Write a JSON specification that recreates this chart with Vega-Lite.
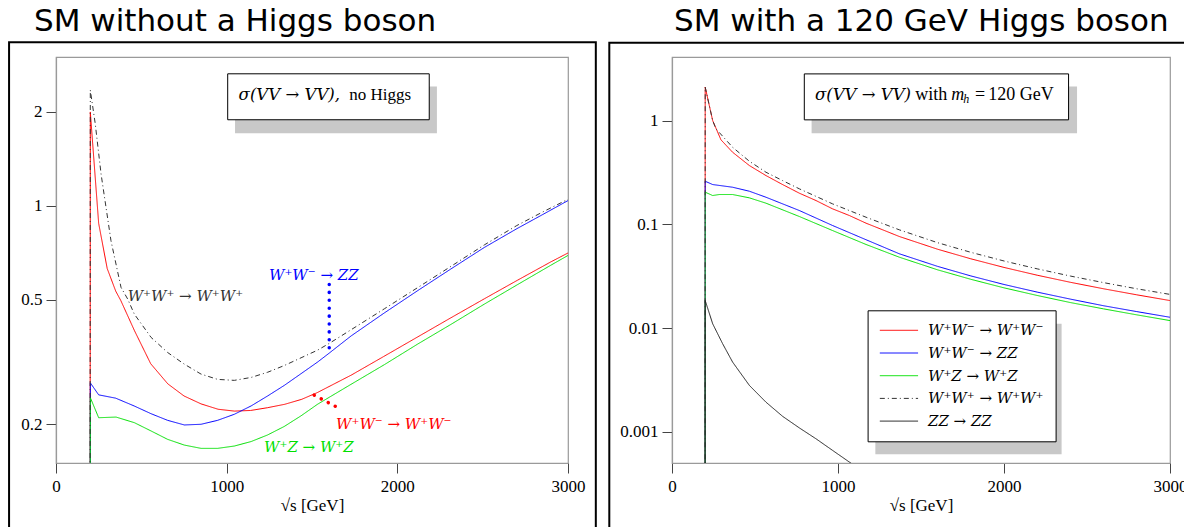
{
  "$schema": "https://vega.github.io/schema/vega-lite/v6.json",
  "background": "white",
  "padding": {"left": 7, "top": 5, "right": 0, "bottom": 0},
  "spacing": 9,
  "datasets": {
    "L": [
      {"process": "W⁺W⁻ → W⁺W⁻", "x": 199, "y": 0.01},
      {"process": "W⁺W⁻ → W⁺W⁻", "x": 201, "y": 2.0},
      {"process": "W⁺W⁻ → W⁺W⁻", "x": 250, "y": 0.879},
      {"process": "W⁺W⁻ → W⁺W⁻", "x": 300, "y": 0.63},
      {"process": "W⁺W⁻ → W⁺W⁻", "x": 350, "y": 0.533},
      {"process": "W⁺W⁻ → W⁺W⁻", "x": 380, "y": 0.497},
      {"process": "W⁺W⁻ → W⁺W⁻", "x": 460, "y": 0.398},
      {"process": "W⁺W⁻ → W⁺W⁻", "x": 555, "y": 0.312},
      {"process": "W⁺W⁻ → W⁺W⁻", "x": 655, "y": 0.269},
      {"process": "W⁺W⁻ → W⁺W⁻", "x": 750, "y": 0.246},
      {"process": "W⁺W⁻ → W⁺W⁻", "x": 850, "y": 0.232},
      {"process": "W⁺W⁻ → W⁺W⁻", "x": 950, "y": 0.223},
      {"process": "W⁺W⁻ → W⁺W⁻", "x": 1045, "y": 0.22},
      {"process": "W⁺W⁻ → W⁺W⁻", "x": 1140, "y": 0.221},
      {"process": "W⁺W⁻ → W⁺W⁻", "x": 1240, "y": 0.2256},
      {"process": "W⁺W⁻ → W⁺W⁻", "x": 1340, "y": 0.2313},
      {"process": "W⁺W⁻ → W⁺W⁻", "x": 1440, "y": 0.24},
      {"process": "W⁺W⁻ → W⁺W⁻", "x": 1530, "y": 0.252},
      {"process": "W⁺W⁻ → W⁺W⁻", "x": 1730, "y": 0.2869},
      {"process": "W⁺W⁻ → W⁺W⁻", "x": 1920, "y": 0.3291},
      {"process": "W⁺W⁻ → W⁺W⁻", "x": 2120, "y": 0.3805},
      {"process": "W⁺W⁻ → W⁺W⁻", "x": 2310, "y": 0.4367},
      {"process": "W⁺W⁻ → W⁺W⁻", "x": 2510, "y": 0.5039},
      {"process": "W⁺W⁻ → W⁺W⁻", "x": 2705, "y": 0.5782},
      {"process": "W⁺W⁻ → W⁺W⁻", "x": 2900, "y": 0.6618},
      {"process": "W⁺W⁻ → W⁺W⁻", "x": 3000, "y": 0.7065},
      {"process": "W⁺W⁻ → ZZ", "x": 199, "y": 0.01},
      {"process": "W⁺W⁻ → ZZ", "x": 201, "y": 0.271},
      {"process": "W⁺W⁻ → ZZ", "x": 250, "y": 0.248},
      {"process": "W⁺W⁻ → ZZ", "x": 350, "y": 0.242},
      {"process": "W⁺W⁻ → ZZ", "x": 458, "y": 0.2285},
      {"process": "W⁺W⁻ → ZZ", "x": 557, "y": 0.2158},
      {"process": "W⁺W⁻ → ZZ", "x": 654, "y": 0.2055},
      {"process": "W⁺W⁻ → ZZ", "x": 752, "y": 0.1986},
      {"process": "W⁺W⁻ → ZZ", "x": 850, "y": 0.1996},
      {"process": "W⁺W⁻ → ZZ", "x": 947, "y": 0.2055},
      {"process": "W⁺W⁻ → ZZ", "x": 1045, "y": 0.2149},
      {"process": "W⁺W⁻ → ZZ", "x": 1143, "y": 0.2285},
      {"process": "W⁺W⁻ → ZZ", "x": 1240, "y": 0.246},
      {"process": "W⁺W⁻ → ZZ", "x": 1338, "y": 0.266},
      {"process": "W⁺W⁻ → ZZ", "x": 1436, "y": 0.29},
      {"process": "W⁺W⁻ → ZZ", "x": 1533, "y": 0.316},
      {"process": "W⁺W⁻ → ZZ", "x": 1601, "y": 0.3375},
      {"process": "W⁺W⁻ → ZZ", "x": 1729, "y": 0.383},
      {"process": "W⁺W⁻ → ZZ", "x": 1924, "y": 0.454},
      {"process": "W⁺W⁻ → ZZ", "x": 2119, "y": 0.535},
      {"process": "W⁺W⁻ → ZZ", "x": 2314, "y": 0.628},
      {"process": "W⁺W⁻ → ZZ", "x": 2510, "y": 0.736},
      {"process": "W⁺W⁻ → ZZ", "x": 2700, "y": 0.845},
      {"process": "W⁺W⁻ → ZZ", "x": 2850, "y": 0.937},
      {"process": "W⁺W⁻ → ZZ", "x": 3000, "y": 1.04},
      {"process": "W⁺Z → W⁺Z", "x": 199, "y": 0.01},
      {"process": "W⁺Z → W⁺Z", "x": 201, "y": 0.243},
      {"process": "W⁺Z → W⁺Z", "x": 250, "y": 0.2095},
      {"process": "W⁺Z → W⁺Z", "x": 352, "y": 0.2105},
      {"process": "W⁺Z → W⁺Z", "x": 459, "y": 0.202},
      {"process": "W⁺Z → W⁺Z", "x": 557, "y": 0.19},
      {"process": "W⁺Z → W⁺Z", "x": 654, "y": 0.1786},
      {"process": "W⁺Z → W⁺Z", "x": 752, "y": 0.1712},
      {"process": "W⁺Z → W⁺Z", "x": 850, "y": 0.1671},
      {"process": "W⁺Z → W⁺Z", "x": 947, "y": 0.1671},
      {"process": "W⁺Z → W⁺Z", "x": 1045, "y": 0.17},
      {"process": "W⁺Z → W⁺Z", "x": 1143, "y": 0.1757},
      {"process": "W⁺Z → W⁺Z", "x": 1240, "y": 0.1845},
      {"process": "W⁺Z → W⁺Z", "x": 1338, "y": 0.1965},
      {"process": "W⁺Z → W⁺Z", "x": 1436, "y": 0.2125},
      {"process": "W⁺Z → W⁺Z", "x": 1533, "y": 0.2315},
      {"process": "W⁺Z → W⁺Z", "x": 1729, "y": 0.2681},
      {"process": "W⁺Z → W⁺Z", "x": 1924, "y": 0.3099},
      {"process": "W⁺Z → W⁺Z", "x": 2119, "y": 0.3607},
      {"process": "W⁺Z → W⁺Z", "x": 2314, "y": 0.4171},
      {"process": "W⁺Z → W⁺Z", "x": 2510, "y": 0.4845},
      {"process": "W⁺Z → W⁺Z", "x": 2705, "y": 0.5597},
      {"process": "W⁺Z → W⁺Z", "x": 2900, "y": 0.6457},
      {"process": "W⁺Z → W⁺Z", "x": 3000, "y": 0.6938},
      {"process": "W⁺W⁺ → W⁺W⁺", "x": 199, "y": 0.01},
      {"process": "W⁺W⁺ → W⁺W⁺", "x": 201, "y": 2.35},
      {"process": "W⁺W⁺ → W⁺W⁺", "x": 230, "y": 1.833},
      {"process": "W⁺W⁺ → W⁺W⁺", "x": 264, "y": 1.266},
      {"process": "W⁺W⁺ → W⁺W⁺", "x": 322, "y": 0.774},
      {"process": "W⁺W⁺ → W⁺W⁺", "x": 381, "y": 0.548},
      {"process": "W⁺W⁺ → W⁺W⁺", "x": 420, "y": 0.503},
      {"process": "W⁺W⁺ → W⁺W⁺", "x": 459, "y": 0.45},
      {"process": "W⁺W⁺ → W⁺W⁺", "x": 557, "y": 0.379},
      {"process": "W⁺W⁺ → W⁺W⁺", "x": 654, "y": 0.339},
      {"process": "W⁺W⁺ → W⁺W⁺", "x": 752, "y": 0.311},
      {"process": "W⁺W⁺ → W⁺W⁺", "x": 850, "y": 0.289},
      {"process": "W⁺W⁺ → W⁺W⁺", "x": 947, "y": 0.278},
      {"process": "W⁺W⁺ → W⁺W⁺", "x": 1045, "y": 0.276},
      {"process": "W⁺W⁺ → W⁺W⁺", "x": 1143, "y": 0.282},
      {"process": "W⁺W⁺ → W⁺W⁺", "x": 1240, "y": 0.293},
      {"process": "W⁺W⁺ → W⁺W⁺", "x": 1338, "y": 0.308},
      {"process": "W⁺W⁺ → W⁺W⁺", "x": 1436, "y": 0.326},
      {"process": "W⁺W⁺ → W⁺W⁺", "x": 1533, "y": 0.345},
      {"process": "W⁺W⁺ → W⁺W⁺", "x": 1601, "y": 0.3625},
      {"process": "W⁺W⁺ → W⁺W⁺", "x": 1729, "y": 0.401},
      {"process": "W⁺W⁺ → W⁺W⁺", "x": 1924, "y": 0.468},
      {"process": "W⁺W⁺ → W⁺W⁺", "x": 2119, "y": 0.547},
      {"process": "W⁺W⁺ → W⁺W⁺", "x": 2314, "y": 0.64},
      {"process": "W⁺W⁺ → W⁺W⁺", "x": 2510, "y": 0.75},
      {"process": "W⁺W⁺ → W⁺W⁺", "x": 2700, "y": 0.865},
      {"process": "W⁺W⁺ → W⁺W⁺", "x": 2850, "y": 0.955},
      {"process": "W⁺W⁺ → W⁺W⁺", "x": 3000, "y": 1.05}
    ],
    "R": [
      {"process": "W⁺W⁻ → W⁺W⁻", "x": 199, "y": 0.00001},
      {"process": "W⁺W⁻ → W⁺W⁻", "x": 200, "y": 2.1},
      {"process": "W⁺W⁻ → W⁺W⁻", "x": 245, "y": 1.0},
      {"process": "W⁺W⁻ → W⁺W⁻", "x": 295, "y": 0.652},
      {"process": "W⁺W⁻ → W⁺W⁻", "x": 365, "y": 0.495},
      {"process": "W⁺W⁻ → W⁺W⁻", "x": 466, "y": 0.3685},
      {"process": "W⁺W⁻ → W⁺W⁻", "x": 566, "y": 0.295},
      {"process": "W⁺W⁻ → W⁺W⁻", "x": 666, "y": 0.2417},
      {"process": "W⁺W⁻ → W⁺W⁻", "x": 767, "y": 0.1995},
      {"process": "W⁺W⁻ → W⁺W⁻", "x": 867, "y": 0.1696},
      {"process": "W⁺W⁻ → W⁺W⁻", "x": 967, "y": 0.141},
      {"process": "W⁺W⁻ → W⁺W⁻", "x": 1068, "y": 0.1216},
      {"process": "W⁺W⁻ → W⁺W⁻", "x": 1169, "y": 0.1025},
      {"process": "W⁺W⁻ → W⁺W⁻", "x": 1269, "y": 0.0885},
      {"process": "W⁺W⁻ → W⁺W⁻", "x": 1369, "y": 0.0763},
      {"process": "W⁺W⁻ → W⁺W⁻", "x": 1600, "y": 0.0575},
      {"process": "W⁺W⁻ → W⁺W⁻", "x": 1800, "y": 0.0465},
      {"process": "W⁺W⁻ → W⁺W⁻", "x": 2000, "y": 0.0384},
      {"process": "W⁺W⁻ → W⁺W⁻", "x": 2200, "y": 0.0323},
      {"process": "W⁺W⁻ → W⁺W⁻", "x": 2400, "y": 0.0276},
      {"process": "W⁺W⁻ → W⁺W⁻", "x": 2600, "y": 0.0239},
      {"process": "W⁺W⁻ → W⁺W⁻", "x": 2800, "y": 0.0209},
      {"process": "W⁺W⁻ → W⁺W⁻", "x": 3000, "y": 0.0184},
      {"process": "W⁺W⁻ → ZZ", "x": 199, "y": 0.00001},
      {"process": "W⁺W⁻ → ZZ", "x": 200, "y": 0.26},
      {"process": "W⁺W⁻ → ZZ", "x": 245, "y": 0.2417},
      {"process": "W⁺W⁻ → ZZ", "x": 365, "y": 0.2277},
      {"process": "W⁺W⁻ → ZZ", "x": 466, "y": 0.2084},
      {"process": "W⁺W⁻ → ZZ", "x": 566, "y": 0.1824},
      {"process": "W⁺W⁻ → ZZ", "x": 767, "y": 0.1358},
      {"process": "W⁺W⁻ → ZZ", "x": 967, "y": 0.0974},
      {"process": "W⁺W⁻ → ZZ", "x": 1169, "y": 0.071},
      {"process": "W⁺W⁻ → ZZ", "x": 1369, "y": 0.052},
      {"process": "W⁺W⁻ → ZZ", "x": 1600, "y": 0.0393},
      {"process": "W⁺W⁻ → ZZ", "x": 1800, "y": 0.0318},
      {"process": "W⁺W⁻ → ZZ", "x": 2000, "y": 0.0263},
      {"process": "W⁺W⁻ → ZZ", "x": 2200, "y": 0.0222},
      {"process": "W⁺W⁻ → ZZ", "x": 2400, "y": 0.019},
      {"process": "W⁺W⁻ → ZZ", "x": 2600, "y": 0.0164},
      {"process": "W⁺W⁻ → ZZ", "x": 2800, "y": 0.0144},
      {"process": "W⁺W⁻ → ZZ", "x": 3000, "y": 0.0127},
      {"process": "W⁺Z → W⁺Z", "x": 199, "y": 0.00001},
      {"process": "W⁺Z → W⁺Z", "x": 200, "y": 0.204},
      {"process": "W⁺Z → W⁺Z", "x": 245, "y": 0.1894},
      {"process": "W⁺Z → W⁺Z", "x": 285, "y": 0.1937},
      {"process": "W⁺Z → W⁺Z", "x": 365, "y": 0.1937},
      {"process": "W⁺Z → W⁺Z", "x": 466, "y": 0.1799},
      {"process": "W⁺Z → W⁺Z", "x": 566, "y": 0.1598},
      {"process": "W⁺Z → W⁺Z", "x": 767, "y": 0.1189},
      {"process": "W⁺Z → W⁺Z", "x": 967, "y": 0.0871},
      {"process": "W⁺Z → W⁺Z", "x": 1169, "y": 0.0639},
      {"process": "W⁺Z → W⁺Z", "x": 1369, "y": 0.0482},
      {"process": "W⁺Z → W⁺Z", "x": 1600, "y": 0.0364},
      {"process": "W⁺Z → W⁺Z", "x": 1800, "y": 0.0295},
      {"process": "W⁺Z → W⁺Z", "x": 2000, "y": 0.0244},
      {"process": "W⁺Z → W⁺Z", "x": 2200, "y": 0.0206},
      {"process": "W⁺Z → W⁺Z", "x": 2400, "y": 0.0176},
      {"process": "W⁺Z → W⁺Z", "x": 2600, "y": 0.0153},
      {"process": "W⁺Z → W⁺Z", "x": 2800, "y": 0.0134},
      {"process": "W⁺Z → W⁺Z", "x": 3000, "y": 0.0118},
      {"process": "W⁺W⁺ → W⁺W⁺", "x": 199, "y": 0.00001},
      {"process": "W⁺W⁺ → W⁺W⁺", "x": 200, "y": 2.1},
      {"process": "W⁺W⁺ → W⁺W⁺", "x": 245, "y": 1.0},
      {"process": "W⁺W⁺ → W⁺W⁺", "x": 265, "y": 0.832},
      {"process": "W⁺W⁺ → W⁺W⁺", "x": 365, "y": 0.553},
      {"process": "W⁺W⁺ → W⁺W⁺", "x": 466, "y": 0.4055},
      {"process": "W⁺W⁺ → W⁺W⁺", "x": 566, "y": 0.3177},
      {"process": "W⁺W⁺ → W⁺W⁺", "x": 666, "y": 0.264},
      {"process": "W⁺W⁺ → W⁺W⁺", "x": 767, "y": 0.2198},
      {"process": "W⁺W⁺ → W⁺W⁺", "x": 967, "y": 0.1575},
      {"process": "W⁺W⁺ → W⁺W⁺", "x": 1169, "y": 0.117},
      {"process": "W⁺W⁺ → W⁺W⁺", "x": 1369, "y": 0.0885},
      {"process": "W⁺W⁺ → W⁺W⁺", "x": 1600, "y": 0.0665},
      {"process": "W⁺W⁺ → W⁺W⁺", "x": 1800, "y": 0.0537},
      {"process": "W⁺W⁺ → W⁺W⁺", "x": 2000, "y": 0.0443},
      {"process": "W⁺W⁺ → W⁺W⁺", "x": 2200, "y": 0.0372},
      {"process": "W⁺W⁺ → W⁺W⁺", "x": 2400, "y": 0.0317},
      {"process": "W⁺W⁺ → W⁺W⁺", "x": 2600, "y": 0.0274},
      {"process": "W⁺W⁺ → W⁺W⁺", "x": 2800, "y": 0.0239},
      {"process": "W⁺W⁺ → W⁺W⁺", "x": 3000, "y": 0.0211},
      {"process": "ZZ → ZZ", "x": 199, "y": 0.00001},
      {"process": "ZZ → ZZ", "x": 200, "y": 0.0184},
      {"process": "ZZ → ZZ", "x": 245, "y": 0.011},
      {"process": "ZZ → ZZ", "x": 305, "y": 0.00706},
      {"process": "ZZ → ZZ", "x": 365, "y": 0.0047},
      {"process": "ZZ → ZZ", "x": 466, "y": 0.0028},
      {"process": "ZZ → ZZ", "x": 566, "y": 0.00193},
      {"process": "ZZ → ZZ", "x": 666, "y": 0.00141},
      {"process": "ZZ → ZZ", "x": 767, "y": 0.00109},
      {"process": "ZZ → ZZ", "x": 867, "y": 0.000857},
      {"process": "ZZ → ZZ", "x": 967, "y": 0.000662},
      {"process": "ZZ → ZZ", "x": 1068, "y": 0.000511},
      {"process": "ZZ → ZZ", "x": 1200, "y": 0.00037},
      {"process": "ZZ → ZZ", "x": 1400, "y": 0.00025}
    ]
  },
  "hconcat": [
    {
      "width": 512,
      "height": 406,
      "title": {"text": "SM without a Higgs boson", "anchor": "start", "frame": "group", "dx": -22, "offset": -20.3, "baseline": "alphabetic", "font": "DejaVu Sans", "fontSize": 31, "fontWeight": "normal", "color": "black"},
      "layer": [
        {
          "data": {"values": [{"x": -275, "x2": 3163, "y": 3.343, "y2": 0.0842}]},
          "mark": {"type": "rect", "fill": null, "stroke": "black", "strokeWidth": 2, "clip": false},
          "encoding": {
            "x": {"field": "x", "type": "quantitative"},
            "x2": {"field": "x2"},
            "y": {"field": "y", "type": "quantitative"},
            "y2": {"field": "y2"}
          }
        },
        {
          "data": {"values": [{"x": 1049, "x2": 2232, "y": 2.414, "y2": 1.71}]},
          "mark": {"type": "rect", "fill": "#c8c8c8", "clip": false},
          "encoding": {
            "x": {"field": "x", "type": "quantitative"},
            "x2": {"field": "x2"},
            "y": {"field": "y", "type": "quantitative"},
            "y2": {"field": "y2"}
          }
        },
        {
          "data": {"values": [{"x": 1006, "x2": 2187, "y": 2.65, "y2": 1.888}]},
          "mark": {"type": "rect", "fill": "white", "stroke": "black", "strokeWidth": 1, "clip": false},
          "encoding": {
            "x": {"field": "x", "type": "quantitative"},
            "x2": {"field": "x2"},
            "y": {"field": "y", "type": "quantitative"},
            "y2": {"field": "y2"}
          }
        },
        {
          "data": {"name": "L"},
          "mark": {"type": "line", "strokeWidth": 1, "clip": true},
          "encoding": {
            "x": {"field": "x", "type": "quantitative", "scale": {"domain": [0, 3000], "nice": false, "zero": false},
                  "axis": {"values": [0, 1000, 2000, 3000], "format": "d", "title": "√s [GeV]"}},
            "y": {"field": "y", "type": "quantitative", "scale": {"type": "log", "domain": [0.15, 3.0], "nice": false},
                  "axis": {"values": [0.2, 0.5, 1, 2], "format": "~g", "title": null}},
            "color": {"field": "process", "type": "nominal", "legend": null,
                      "scale": {"domain": ["W⁺W⁻ → W⁺W⁻", "W⁺W⁻ → ZZ", "W⁺Z → W⁺Z", "W⁺W⁺ → W⁺W⁺", "ZZ → ZZ"],
                                "range": ["#ff0000", "#0000ff", "#00e000", "#333333", "#222222"]}},
            "strokeDash": {"field": "process", "type": "nominal", "legend": null,
                      "scale": {"domain": ["W⁺W⁻ → W⁺W⁻", "W⁺W⁻ → ZZ", "W⁺Z → W⁺Z", "W⁺W⁺ → W⁺W⁺", "ZZ → ZZ"],
                                "range": [[1, 0], [1, 0], [1, 0], [5, 3, 1, 3], [1, 0]]}}
          }
        },
        {
          "data": {"values": [{"t": "σ(VV → VV),", "x": 1070, "y": 2.188}]},
          "mark": {"type": "text", "align": "left", "baseline": "alphabetic", "font": "DejaVu Serif", "fontStyle": "italic", "fontSize": 16.5, "color": "black", "clip": false},
          "encoding": {"x": {"field": "x", "type": "quantitative"}, "y": {"field": "y", "type": "quantitative"}, "text": {"field": "t"}}
        },
        {
          "data": {"values": [{"t": "no Higgs", "x": 1718, "y": 2.188}]},
          "mark": {"type": "text", "align": "left", "baseline": "alphabetic", "font": "Liberation Serif", "fontSize": 17, "color": "black", "clip": false},
          "encoding": {"x": {"field": "x", "type": "quantitative"}, "y": {"field": "y", "type": "quantitative"}, "text": {"field": "t"}}
        },
        {
          "data": {"values": [
            {"process": "W⁺W⁺ → W⁺W⁺", "x": 420, "y": 0.497},
            {"process": "W⁺W⁻ → ZZ", "x": 1248, "y": 0.578},
            {"process": "W⁺W⁻ → W⁺W⁻", "x": 1641, "y": 0.1923},
            {"process": "W⁺Z → W⁺Z", "x": 1219, "y": 0.1626}
          ]},
          "mark": {"type": "text", "align": "left", "baseline": "alphabetic", "font": "DejaVu Serif", "fontStyle": "italic", "fontSize": 15, "clip": false},
          "encoding": {
            "x": {"field": "x", "type": "quantitative"},
            "y": {"field": "y", "type": "quantitative"},
            "text": {"field": "process"},
            "color": {"field": "process", "type": "nominal", "legend": null}
          }
        },
        {
          "data": {"values": [
            {"process": "W⁺W⁻ → ZZ", "x": 1601, "y": 0.56},
            {"process": "W⁺W⁻ → ZZ", "x": 1601, "y": 0.342},
            {"process": "W⁺W⁻ → W⁺W⁻", "x": 1513, "y": 0.2474},
            {"process": "W⁺W⁻ → W⁺W⁻", "x": 1670, "y": 0.2229}
          ]},
          "mark": {"type": "line", "strokeWidth": 3.5, "strokeCap": "round", "strokeDash": [0.1, 7.8], "clip": false},
          "encoding": {
            "x": {"field": "x", "type": "quantitative"},
            "y": {"field": "y", "type": "quantitative"},
            "color": {"field": "process", "type": "nominal", "legend": null}
          }
        }
      ]
    },
    {
      "width": 498,
      "height": 406,
      "title": {"text": "SM with a 120 GeV Higgs boson", "anchor": "start", "frame": "group", "dx": 2, "offset": -20.3, "baseline": "alphabetic", "font": "DejaVu Sans", "fontSize": 31, "fontWeight": "normal", "color": "black"},
      "layer": [
        {
          "data": {"values": [{"x": -377.7, "x2": 3146, "y": 5.64, "y2": 0.0000897}]},
          "mark": {"type": "rect", "fill": null, "stroke": "black", "strokeWidth": 2, "clip": false},
          "encoding": {
            "x": {"field": "x", "type": "quantitative"},
            "x2": {"field": "x2"},
            "y": {"field": "y", "type": "quantitative"},
            "y2": {"field": "y2"}
          }
        },
        {
          "data": {"values": [{"x": 841, "x2": 2440, "y": 2.126, "y2": 0.7545}, {"x": 1225, "x2": 2347, "y": 0.011, "y2": 0.000606}]},
          "mark": {"type": "rect", "fill": "#c8c8c8", "clip": false},
          "encoding": {
            "x": {"field": "x", "type": "quantitative"},
            "x2": {"field": "x2"},
            "y": {"field": "y", "type": "quantitative"},
            "y2": {"field": "y2"}
          }
        },
        {
          "data": {"values": [{"x": 797, "x2": 2389, "y": 2.818, "y2": 1.016}]},
          "mark": {"type": "rect", "fill": "white", "stroke": "black", "strokeWidth": 1, "clip": false},
          "encoding": {
            "x": {"field": "x", "type": "quantitative"},
            "x2": {"field": "x2"},
            "y": {"field": "y", "type": "quantitative"},
            "y2": {"field": "y2"}
          }
        },
        {
          "data": {"name": "R"},
          "mark": {"type": "line", "strokeWidth": 1, "clip": true},
          "encoding": {
            "x": {"field": "x", "type": "quantitative", "scale": {"domain": [0, 3000], "nice": false, "zero": false},
                  "axis": {"values": [0, 1000, 2000, 3000], "format": "d", "title": "√s [GeV]"}},
            "y": {"field": "y", "type": "quantitative", "scale": {"type": "log", "domain": [0.0005, 4.1], "nice": false},
                  "axis": {"values": [0.001, 0.01, 0.1, 1], "format": "~g", "title": null}},
            "color": {"field": "process", "type": "nominal",
                      "scale": {"domain": ["W⁺W⁻ → W⁺W⁻", "W⁺W⁻ → ZZ", "W⁺Z → W⁺Z", "W⁺W⁺ → W⁺W⁺", "ZZ → ZZ"],
                                "range": ["#ff0000", "#0000ff", "#00e000", "#333333", "#222222"]},
                      "legend": {"title": null, "orient": "none", "legendX": 195.6, "legendY": 253.3, "padding": 12, "strokeColor": "black", "fillColor": "white", "symbolType": "M-2.55,0H2.55", "symbolSize": 225, "symbolOffset": 11.35, "symbolStrokeWidth": 1, "labelFont": "DejaVu Serif", "labelFontStyle": "italic", "labelFontSize": 15, "labelColor": "black", "labelOffset": 21.05, "rowPadding": 6.7}},
            "strokeDash": {"field": "process", "type": "nominal",
                      "scale": {"domain": ["W⁺W⁻ → W⁺W⁻", "W⁺W⁻ → ZZ", "W⁺Z → W⁺Z", "W⁺W⁺ → W⁺W⁺", "ZZ → ZZ"],
                                "range": [[1, 0], [1, 0], [1, 0], [5, 3, 1, 3], [1, 0]]},
                      "legend": {"title": null, "orient": "none", "legendX": 195.6, "legendY": 253.3, "padding": 12, "strokeColor": "black", "fillColor": "white", "symbolType": "M-2.55,0H2.55", "symbolSize": 225, "symbolOffset": 11.35, "symbolStrokeWidth": 1, "labelFont": "DejaVu Serif", "labelFontStyle": "italic", "labelFontSize": 15, "labelColor": "black", "labelOffset": 21.05, "rowPadding": 6.7}}
          }
        },
        {
          "data": {"values": [{"t": "σ(VV → VV)", "x": 861, "y": 1.582}]},
          "mark": {"type": "text", "align": "left", "baseline": "alphabetic", "font": "DejaVu Serif", "fontStyle": "italic", "fontSize": 16.5, "color": "black", "clip": false},
          "encoding": {"x": {"field": "x", "type": "quantitative"}, "y": {"field": "y", "type": "quantitative"}, "text": {"field": "t"}}
        },
        {
          "data": {"values": [{"t": "m", "x": 1682, "y": 1.582}]},
          "mark": {"type": "text", "align": "left", "baseline": "alphabetic", "font": "Liberation Serif", "fontStyle": "italic", "fontSize": 18, "color": "black", "clip": false},
          "encoding": {"x": {"field": "x", "type": "quantitative"}, "y": {"field": "y", "type": "quantitative"}, "text": {"field": "t"}}
        },
        {
          "data": {"values": [{"t": "h", "x": 1755, "y": 1.474}]},
          "mark": {"type": "text", "align": "left", "baseline": "alphabetic", "font": "Liberation Serif", "fontStyle": "italic", "fontSize": 12, "color": "black", "clip": false},
          "encoding": {"x": {"field": "x", "type": "quantitative"}, "y": {"field": "y", "type": "quantitative"}, "text": {"field": "t"}}
        },
        {
          "data": {"values": [{"t": "with", "x": 1466, "y": 1.582}, {"t": "=", "x": 1826, "y": 1.582}, {"t": "120 GeV", "x": 1905, "y": 1.582}]},
          "mark": {"type": "text", "align": "left", "baseline": "alphabetic", "font": "Liberation Serif", "fontSize": 18, "color": "black", "clip": false},
          "encoding": {"x": {"field": "x", "type": "quantitative"}, "y": {"field": "y", "type": "quantitative"}, "text": {"field": "t"}}
        }
      ]
    }
  ],
  "resolve": {"scale": {"x": "independent", "y": "independent", "color": "independent", "strokeDash": "independent"}},
  "config": {
    "font": "Liberation Serif",
    "view": {"stroke": "#9a9a9a", "strokeWidth": 1.2},
    "axis": {"grid": false, "domainColor": "#9a9a9a", "domainWidth": 1.2, "tickColor": "#444444", "tickSize": 10, "labelFont": "Liberation Serif", "labelFontSize": 17, "labelColor": "black", "titleFont": "Liberation Serif", "titleFontSize": 17, "titleFontWeight": "normal", "titleColor": "black"},
    "axisY": {"labelPadding": 4},
    "axisX": {"labelPadding": 5, "titlePadding": 3, "labelFlush": false}
  }
}
